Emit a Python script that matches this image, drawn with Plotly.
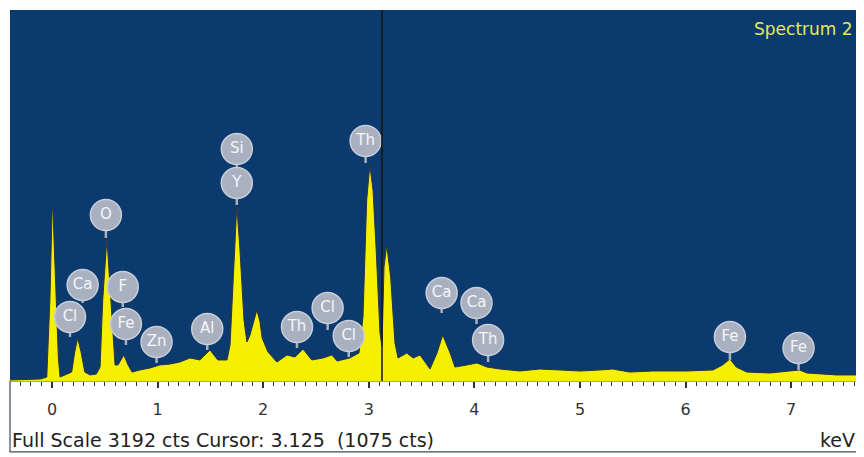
import plotly.graph_objects as go

# ---- spectrum ----
energy_kev = [-0.40, -0.11, -0.05, -0.02, 0.0, 0.007, 0.03, 0.06, 0.076, 0.12, 0.186, 0.215, 0.243, 0.275,
              0.31, 0.36, 0.42, 0.455, 0.48, 0.52, 0.55, 0.58, 0.597, 0.625, 0.68, 0.72, 0.758, 0.833, 0.928,
              1.02, 1.117, 1.21, 1.307, 1.40, 1.496, 1.57, 1.657, 1.686, 1.714, 1.75, 1.78, 1.818, 1.846,
              1.875, 1.94, 1.97, 1.99, 2.045, 2.13, 2.225, 2.30, 2.377, 2.46, 2.566, 2.65, 2.70, 2.82, 2.907,
              2.945, 2.98, 3.01, 3.04, 3.07, 3.106, 3.125, 3.144, 3.17, 3.207, 3.248, 3.277, 3.36, 3.42,
              3.485, 3.58, 3.646, 3.70, 3.77, 3.816, 3.93, 4.025, 4.12, 4.24, 4.43, 4.62, 4.81, 5.0, 5.19,
              5.31, 5.47, 5.69, 6.01, 6.26, 6.35, 6.42, 6.48, 6.58, 6.80, 7.08, 7.15, 7.43, 7.66]
counts = [9, 17, 34, 700, 1450, 1506, 950, 200, 34, 52, 77, 250, 370, 250,
          77, 52, 60, 120, 697, 1230, 783, 353, 138, 138, 224, 138, 77, 95, 112,
          138, 146, 163, 198, 181, 267, 181, 181, 310, 869, 1514, 1127, 525, 336,
          396, 611, 508, 370, 250, 163, 224, 206, 275, 181, 198, 224, 172, 198, 241,
          551, 1557, 1858, 1643, 1127, 413, 300, 981, 1170, 895, 327, 198, 241, 198,
          224, 103, 241, 396, 241, 120, 138, 155, 120, 103, 86, 103, 95, 86, 95,
          103, 77, 86, 86, 95, 138, 189, 120, 77, 69, 95, 69, 52, 52]

# ---- element markers ----
label_text = ["Cl", "Ca", "O", "F", "Fe", "Zn", "Al", "Si", "Y", "Th", "Cl", "Cl", "Th", "Ca", "Ca", "Th", "Fe", "Fe"]
label_kev = [0.17, 0.29, 0.51, 0.67, 0.70, 0.99, 1.47, 1.75, 1.75, 2.32, 2.61, 2.81, 2.97, 3.69, 4.02, 4.13, 6.42, 7.07]
label_cts = [551, 826, 1428, 809, 490, 336, 447, 1996, 1704, 465, 628, 387, 2065, 757, 671, 353, 379, 284]
stem_end_cts = [379, 671, 1230, 637, 310, 155, 267, 1704, 1514, 284, 439, 206, 1876, 585, 490, 163, 181, 95]

full_scale = 3192
cursor_kev = 3.125
cursor_cts = 1075
x_range = [-0.398, 7.652]
x_ticks = [0, 1, 2, 3, 4, 5, 6, 7]

BG = "#0b3a6e"
YEL = "#f4f000"
BADGE = "#a9b1c0"
FONT = "DejaVu Sans"

fig = go.Figure()

fig.add_trace(go.Scatter(
    x=energy_kev, y=counts, mode="lines", fill="tozeroy",
    line=dict(color="#2a3340", width=1), fillcolor=YEL, hoverinfo="skip"))

# stems
sx, sy = [], []
for xk, yc, ye in zip(label_kev, label_cts, stem_end_cts):
    sx += [xk, xk, None]
    sy += [yc, ye, None]
fig.add_trace(go.Scatter(x=sx, y=sy, mode="lines",
                         line=dict(color=BADGE, width=2.5), hoverinfo="skip"))

fig.add_trace(go.Scatter(
    x=label_kev, y=label_cts, mode="markers+text", text=label_text,
    textposition="middle center",
    textfont=dict(family=FONT, size=15, color="#f4f6f8"),
    marker=dict(size=31, color=BADGE, line=dict(color="#c9ced8", width=1.5)),
    hoverinfo="skip"))

fig.add_shape(type="line", xref="x", yref="paper", x0=cursor_kev, x1=cursor_kev,
              y0=0, y1=1, line=dict(color="#151515", width=1.5))

# frame of bottom strip
fig.add_shape(type="rect", xref="paper", yref="paper", x0=0, x1=1, y0=-0.191, y1=0,
              line=dict(color="#3c4a5e", width=1.2), layer="below")

fig.add_annotation(xref="paper", yref="paper", x=1, y=1, xanchor="right", yanchor="top",
                   xshift=-5, yshift=-7, text="Spectrum 2", showarrow=False,
                   font=dict(family=FONT, size=17, color="#e2ec52"))
fig.add_annotation(xref="paper", yref="paper", x=0, y=-0.159, xanchor="left", yanchor="middle",
                   xshift=0, text=f"Full Scale {full_scale} cts Cursor: {cursor_kev:.3f}  ({cursor_cts} cts)",
                   showarrow=False, font=dict(family=FONT, size=19, color="#222222"))
fig.add_annotation(xref="paper", yref="paper", x=1, y=-0.159, xanchor="right", yanchor="middle",
                   xshift=-3, text="keV", showarrow=False,
                   font=dict(family=FONT, size=19, color="#222222"))

# the page body adds an 8 px margin, so the figure is 8 px smaller and the margins shrink to match
fig.update_layout(
    width=856, height=449,
    margin=dict(l=2, r=4, t=2, b=76),
    paper_bgcolor="white", plot_bgcolor=BG,
    showlegend=False,
    xaxis=dict(range=x_range, tickvals=x_ticks, ticktext=[str(t) for t in x_ticks],
               showgrid=False, zeroline=False, ticks="outside", ticklen=6, tickwidth=1.5,
               tickcolor="#333333", ticklabelstandoff=8,
               tickfont=dict(family=FONT, size=16, color="#333333"),
               minor=dict(ticks="outside", ticklen=4, dtick=0.1, tick0=0, tickcolor="#333333",
                          tickwidth=1, showgrid=False)),
    yaxis=dict(range=[0, full_scale], visible=False, showgrid=False, zeroline=False),
)

fig.write_html("out.html")
